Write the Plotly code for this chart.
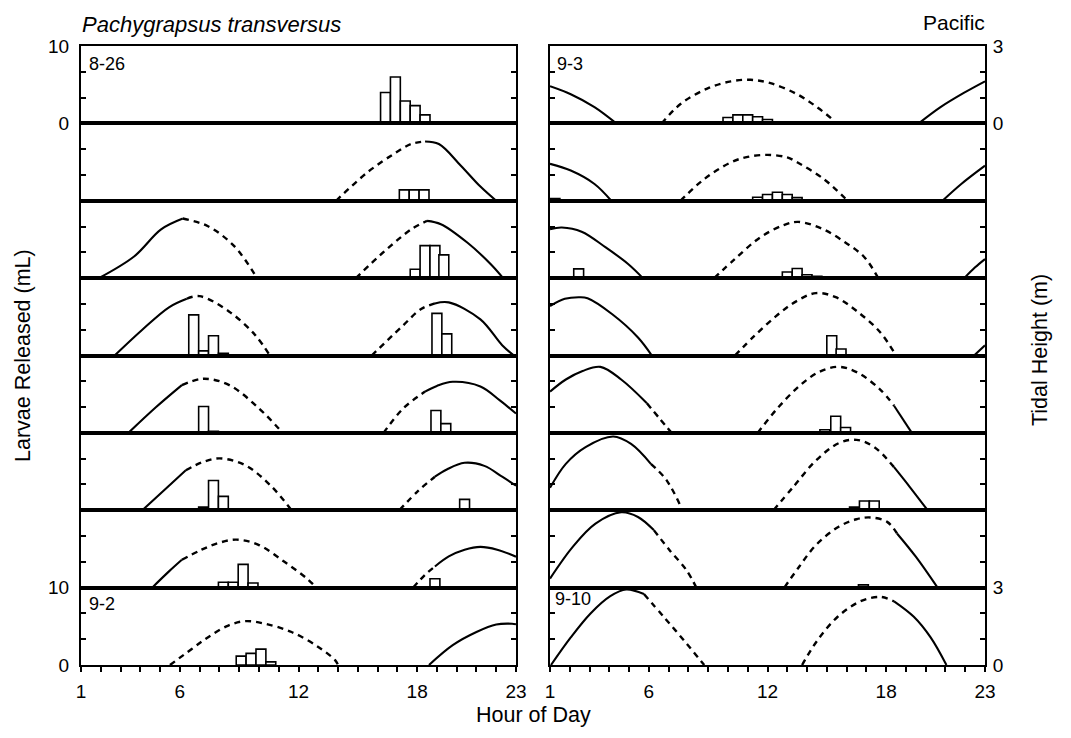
import plotly.graph_objects as go

FONT = "Liberation Sans, Arial, Helvetica, sans-serif"

# ---------------- data ----------------
dates_left = ["8-26", "8-27", "8-28", "8-29", "8-30", "8-31", "9-1", "9-2"]
dates_right = ["9-3", "9-4", "9-5", "9-6", "9-7", "9-8", "9-9", "9-10"]
labelled_dates = ["8-26", "9-2", "9-3", "9-10"]

tick_hours = list(range(1, 24))
x_label_hours = [1, 6, 12, 18, 23]
ml_ticks = [0, 10 / 3, 20 / 3, 10]
ml_tick_labels = ["0", "", "", "10"]
tide_ticks = [0, 1, 2, 3]
tide_tick_labels = ["0", "", "", "3"]

# daylight window (dashed part of the tide curves), hours
SUNRISE, SUNSET = 6.0, 18.7

# larvae released (mL) per half-hour bin: bin centre hours and volumes
hr_0826 = [16.4, 16.9, 17.4, 17.9, 18.4]
ml_0826 = [4.0, 6.0, 2.9, 2.3, 1.1]
hr_0827 = [17.35, 17.85, 18.35]
ml_0827 = [1.4, 1.4, 1.4]
hr_0828 = [17.9, 18.4, 18.9, 19.35]
ml_0828 = [1.15, 4.2, 4.2, 3.0]
hr_0829 = [6.7, 7.2, 7.7, 8.2, 19.0, 19.5]
ml_0829 = [5.25, 0.6, 2.55, 0.3, 5.45, 2.8]
hr_0830 = [7.2, 7.7, 18.95, 19.45]
ml_0830 = [3.4, 0.2, 2.9, 1.2]
hr_0831 = [7.2, 7.7, 8.2, 8.7, 20.4]
ml_0831 = [0.4, 3.85, 1.8, 0.15, 1.4]
hr_0901 = [8.2, 8.7, 9.2, 9.7, 18.9]
ml_0901 = [0.7, 0.7, 3.0, 0.6, 1.15]
hr_0902 = [9.1, 9.6, 10.1, 10.6]
ml_0902 = [1.15, 1.5, 2.05, 0.4]
hr_0903 = [10.0, 10.5, 11.0, 11.5, 12.0]
ml_0903 = [0.75, 1.1, 1.1, 0.85, 0.5]
hr_0904 = [1.25, 11.5, 12.0, 12.5, 13.0, 13.5]
ml_0904 = [0.3, 0.45, 0.8, 1.1, 0.8, 0.4]
hr_0905 = [2.45, 13.0, 13.5, 14.0, 14.5]
ml_0905 = [1.2, 0.8, 1.25, 0.43, 0.25]
hr_0906 = [15.25, 15.72]
ml_0906 = [2.55, 0.85]
hr_0907 = [14.9, 15.45, 15.95]
ml_0907 = [0.4, 2.15, 0.7]
hr_0908 = [16.4, 16.9, 17.4]
ml_0908 = [0.4, 1.2, 1.2]
hr_0909 = [16.85]
ml_0909 = [0.35]
hr_0910 = []
ml_0910 = []

# tidal height (m): each high-tide arc as [hours, heights]
tide_0826 = []
tide_0827 = [
    [[13.9, 15.5, 16.85, 17.7, 18.4, 19.1, 20.2, 21.2, 22.0],
     [0.0, 1.11, 1.83, 2.2, 2.3, 2.2, 1.37, 0.55, 0.0]],
]
tide_0828 = [
    [[1.9, 3.7, 5.05, 6.15, 7.4, 8.75, 9.9],
     [0.0, 0.85, 1.89, 2.31, 2.02, 1.24, 0.0]],
    [[14.9, 16.35, 17.7, 18.5, 19.2, 20.55, 21.75, 22.35],
     [0.0, 1.04, 1.89, 2.22, 2.09, 1.37, 0.52, 0.0]],
]
tide_0829 = [
    [[2.7, 4.1, 5.45, 6.35, 7.0, 8.5, 9.8, 10.55],
     [0.0, 1.0, 1.87, 2.2, 2.3, 1.7, 0.8, 0.0]],
    [[15.7, 17.2, 18.2, 18.9, 19.6, 21.2, 22.3, 22.9],
     [0.0, 1.1, 1.8, 2.02, 2.06, 1.4, 0.4, 0.0]],
]
tide_0830 = [
    [[3.4, 4.8, 6.1, 7.2, 8.5, 10.0, 11.2],
     [0.0, 1.0, 1.85, 2.1, 1.85, 0.95, 0.0]],
    [[16.3, 17.3, 18.4, 19.0, 19.8, 21.2, 22.2, 23.0],
     [0.0, 0.95, 1.6, 1.82, 1.98, 1.8, 1.25, 0.75]],
]
tide_0831 = [
    [[4.1, 5.45, 6.3, 7.1, 8.0, 9.3, 10.6, 11.65],
     [0.0, 0.95, 1.55, 1.85, 2.01, 1.75, 0.95, 0.0]],
    [[17.1, 18.05, 18.9, 19.5, 20.4, 21.4, 22.3, 23.0],
     [0.0, 0.75, 1.3, 1.58, 1.84, 1.72, 1.3, 0.95]],
]
tide_0901 = [
    [[4.6, 5.45, 6.1, 7.1, 7.95, 8.85, 9.95, 11.25, 12.4, 12.9],
     [0.0, 0.63, 1.08, 1.47, 1.73, 1.86, 1.67, 1.02, 0.37, 0.0]],
    [[17.8, 18.4, 18.9, 19.6, 20.4, 21.2, 22.05, 23.0],
     [0.0, 0.5, 0.82, 1.21, 1.47, 1.58, 1.47, 1.2]],
]
tide_0902 = [
    [[5.5, 6.6, 7.45, 8.45, 9.3, 10.3, 11.65, 13.0, 13.85, 14.0],
     [0.0, 0.62, 1.09, 1.53, 1.7, 1.6, 1.28, 0.7, 0.19, 0.0]],
    [[18.6, 19.8, 21.0, 22.0, 22.8, 23.0],
     [0.0, 0.77, 1.28, 1.57, 1.6, 1.58]],
]
tide_0903 = [
    [[1.0, 2.05, 3.25, 4.35], [1.44, 1.13, 0.63, 0.0]],
    [[6.65, 7.6, 8.95, 10.15, 11.15, 12.15, 13.5, 14.5, 15.3, 15.4],
     [0.0, 0.75, 1.35, 1.63, 1.69, 1.56, 1.13, 0.63, 0.13, 0.0]],
    [[19.65, 20.75, 21.95, 23.0], [0.0, 0.63, 1.19, 1.63]],
]
tide_0904 = [
    [[1.0, 2.05, 3.25, 4.1], [1.43, 1.17, 0.65, 0.0]],
    [[7.6, 8.8, 10.15, 11.0, 12.0, 13.0, 13.5, 14.85, 16.05],
     [0.0, 0.84, 1.49, 1.7, 1.78, 1.68, 1.49, 0.84, 0.0]],
    [[20.85, 21.8, 23.0], [0.0, 0.65, 1.36]],
]
tide_0905 = [
    [[1.0, 1.6, 2.6, 3.8, 4.95, 5.7], [1.9, 1.96, 1.8, 1.2, 0.55, 0.0]],
    [[9.3, 10.35, 11.65, 12.8, 13.55, 14.75, 15.9, 16.9, 17.6],
     [0.0, 0.74, 1.59, 2.05, 2.18, 1.92, 1.4, 0.81, 0.0]],
    [[21.95, 22.5, 23.0], [0.0, 0.42, 0.74]],
]
tide_0906 = [
    [[1.0, 1.75, 2.5, 2.9, 4.15, 5.45, 6.15], [1.92, 2.2, 2.26, 2.22, 1.6, 0.7, 0.0]],
    [[10.35, 11.35, 12.5, 13.45, 14.45, 15.45, 16.55, 17.7, 18.5],
     [0.0, 0.77, 1.57, 2.1, 2.42, 2.26, 1.7, 0.9, 0.0]],
    [[22.45, 23.0], [0.0, 0.4]],
]
tide_0907 = [
    [[1.0, 1.8, 2.65, 3.55, 4.6, 5.9, 6.55, 7.15],
     [1.6, 2.07, 2.4, 2.56, 2.07, 1.15, 0.55, 0.0]],
    [[11.5, 12.5, 13.6, 14.6, 15.6, 16.55, 17.7, 18.4, 19.3],
     [0.0, 0.95, 1.81, 2.36, 2.56, 2.34, 1.68, 1.05, 0.0]],
]
tide_0908 = [
    [[1.0, 1.8, 2.8, 4.2, 5.1, 6.1, 6.9, 7.7],
     [0.87, 1.8, 2.45, 2.86, 2.57, 1.8, 1.16, 0.0]],
    [[12.3, 13.3, 14.45, 15.6, 16.5, 17.4, 18.4, 19.2, 20.1],
     [0.0, 0.9, 1.93, 2.6, 2.73, 2.45, 1.67, 0.9, 0.0]],
]
tide_0909 = [
    [[1.0, 2.15, 3.3, 4.6, 5.45, 6.25, 7.05, 7.9, 8.4],
     [0.35, 1.58, 2.48, 2.92, 2.74, 2.23, 1.45, 0.68, 0.0]],
    [[12.85, 13.6, 14.45, 15.6, 16.5, 17.2, 18.05, 18.55, 19.5, 20.6],
     [0.0, 0.81, 1.65, 2.36, 2.65, 2.72, 2.55, 2.1, 1.2, 0.0]],
]
tide_0910 = [
    [[1.05, 2.05, 3.05, 4.05, 4.85, 5.75, 6.75, 7.8, 8.8],
     [0.0, 1.07, 2.0, 2.67, 2.93, 2.75, 1.87, 0.93, 0.0]],
    [[13.75, 14.5, 15.55, 16.7, 17.7, 18.4, 19.4, 20.25, 21.05],
     [0.0, 0.93, 1.87, 2.47, 2.64, 2.47, 1.87, 1.07, 0.0]],
]

left_panels = [
    (hr_0826, ml_0826, tide_0826), (hr_0827, ml_0827, tide_0827),
    (hr_0828, ml_0828, tide_0828), (hr_0829, ml_0829, tide_0829),
    (hr_0830, ml_0830, tide_0830), (hr_0831, ml_0831, tide_0831),
    (hr_0901, ml_0901, tide_0901), (hr_0902, ml_0902, tide_0902),
]
right_panels = [
    (hr_0903, ml_0903, tide_0903), (hr_0904, ml_0904, tide_0904),
    (hr_0905, ml_0905, tide_0905), (hr_0906, ml_0906, tide_0906),
    (hr_0907, ml_0907, tide_0907), (hr_0908, ml_0908, tide_0908),
    (hr_0909, ml_0909, tide_0909), (hr_0910, ml_0910, tide_0910),
]

# ---------------- layout geometry ----------------
W, H = 1071, 738
ML, MR, MT, MB = 81, 86, 46, 73
PW, PH = W - ML - MR, H - MT - MB
GAP = 34
NROWS = 8


def px2x(px):
    return (px - ML) / PW


def py2y(py):
    return (H - MB - py) / PH


def split_arc(hours, heights):
    """Split an arc at its data points into night (solid) / day (dashed) runs."""
    segs = []
    cur_day, cur_h, cur_m = None, [], []
    for i in range(len(hours) - 1):
        mid = (hours[i] + hours[i + 1]) / 2
        day = SUNRISE < mid < SUNSET
        if day != cur_day:
            if cur_h:
                segs.append((cur_day, cur_h, cur_m))
            cur_day, cur_h, cur_m = day, [hours[i]], [heights[i]]
        cur_h.append(hours[i + 1])
        cur_m.append(heights[i + 1])
    if cur_h:
        segs.append((cur_day, cur_h, cur_m))
    return segs


def sfx(n):
    return "" if n == 1 else str(n)


fig = go.Figure()
layout_axes = {}
colw = (PW - GAP) / 2 / PW
x_ticktext = [str(h) if h in x_label_hours else "" for h in tick_hours]
tickfont = dict(family=FONT, size=19, color="black")

for col, panels in ((0, left_panels), (1, right_panels)):
    for r, (hrs, mls, tide) in enumerate(panels):
        k = col * NROWS + r
        xn, yp, ys = k + 1, 2 * k + 1, 2 * k + 2
        bottom = r == NROWS - 1
        labelled = r in (0, NROWS - 1)
        dom_x = [0, colw] if col == 0 else [1 - colw, 1]
        dom_y = [1 - (r + 1) / NROWS, 1 - r / NROWS]

        layout_axes["xaxis" + sfx(xn)] = dict(
            domain=dom_x, range=[1, 23], anchor="y" + sfx(yp),
            showline=True, mirror=True, linecolor="black", linewidth=2,
            showgrid=False, zeroline=False, fixedrange=True,
            tickmode="array", tickvals=tick_hours if bottom else [],
            ticktext=x_ticktext if bottom else [],
            ticks="outside" if bottom else "", ticklen=5, tickwidth=1.6,
            tickcolor="black", showticklabels=bottom, tickfont=tickfont,
            ticklabelstandoff=3,
        )
        if col == 0:
            layout_axes["yaxis" + sfx(yp)] = dict(
                domain=dom_y, range=[0, 10], anchor="x" + sfx(xn),
                showline=True, mirror="ticks", linecolor="black", linewidth=2,
                showgrid=False, zeroline=False, fixedrange=True,
                tickmode="array",
                tickvals=ml_ticks if labelled else ml_ticks[1:3],
                ticktext=ml_tick_labels if labelled else ["", ""],
                ticks="inside", ticklen=5, tickwidth=1.6, tickcolor="black",
                showticklabels=labelled, tickfont=tickfont, ticklabelstandoff=6,
            )
            layout_axes["yaxis" + sfx(ys)] = dict(
                domain=dom_y, range=[0, 3], anchor="x" + sfx(xn),
                overlaying="y" + sfx(yp), side="right",
                showline=False, showgrid=False, zeroline=False, fixedrange=True,
                ticks="", showticklabels=False,
            )
        else:
            layout_axes["yaxis" + sfx(yp)] = dict(
                domain=dom_y, range=[0, 10], anchor="x" + sfx(xn),
                showline=True, mirror=True, linecolor="black", linewidth=2,
                showgrid=False, zeroline=False, fixedrange=True,
                ticks="", showticklabels=False,
            )
            layout_axes["yaxis" + sfx(ys)] = dict(
                domain=dom_y, range=[0, 3], anchor="x" + sfx(xn),
                overlaying="y" + sfx(yp), side="right",
                showline=True, mirror="ticks", linecolor="black", linewidth=2,
                showgrid=False, zeroline=False, fixedrange=True,
                tickmode="array",
                tickvals=tide_ticks if labelled else tide_ticks[1:3],
                ticktext=tide_tick_labels if labelled else ["", ""],
                ticks="inside", ticklen=5, tickwidth=1.6, tickcolor="black",
                showticklabels=labelled, tickfont=tickfont, ticklabelstandoff=2,
            )

        # bar trace is always added so every panel has its primary subplot
        fig.add_trace(go.Bar(
            x=hrs, y=mls, width=0.5, xaxis="x" + sfx(xn), yaxis="y" + sfx(yp),
            marker=dict(color="white", line=dict(color="black", width=1.6)),
            showlegend=False, hoverinfo="skip"))
        for arc_h, arc_m in tide:
            for day, sh, sm in split_arc(arc_h, arc_m):
                fig.add_trace(go.Scatter(
                    x=sh, y=sm, mode="lines", xaxis="x" + sfx(xn), yaxis="y" + sfx(ys),
                    line=dict(color="black", width=2.4 if day else 2.1,
                              dash="6px,5px" if day else "solid",
                              shape="spline", smoothing=1.0),
                    showlegend=False, hoverinfo="skip"))

annotations = [
    dict(text="<i>Pachygrapsus transversus</i>", x=px2x(80), y=py2y(25),
         xanchor="left", yanchor="middle", font=dict(size=22)),
    dict(text="Pacific", x=px2x(987), y=py2y(22),
         xanchor="right", yanchor="middle", font=dict(size=21)),
    dict(text="Larvae Released (mL)", x=px2x(23), y=py2y(356), textangle=-90,
         xanchor="center", yanchor="middle", font=dict(size=21.5)),
    dict(text="Tidal Height (m)", x=px2x(1040), y=py2y(350), textangle=-90,
         xanchor="center", yanchor="middle", font=dict(size=21.5)),
    dict(text="Hour of Day", x=px2x(533), y=py2y(715),
         xanchor="center", yanchor="middle", font=dict(size=21.5)),
]
panel_label_pos = {"8-26": (87, 64), "9-2": (87, 604), "9-3": (555, 64), "9-10": (553, 599)}
for d in labelled_dates:
    px, py = panel_label_pos[d]
    annotations.append(dict(text=d, x=px2x(px), y=py2y(py), xanchor="left",
                            yanchor="middle", font=dict(size=18)))
for a in annotations:
    a.update(xref="paper", yref="paper", showarrow=False)
    a["font"].update(family=FONT, color="black")

fig.update_layout(
    width=W, height=H, margin=dict(l=ML, r=MR, t=MT, b=MB),
    paper_bgcolor="white", plot_bgcolor="white", showlegend=False,
    barmode="overlay", annotations=annotations,
    font=dict(family=FONT, color="black"),
    **layout_axes,
)

fig.write_html("out.html")
